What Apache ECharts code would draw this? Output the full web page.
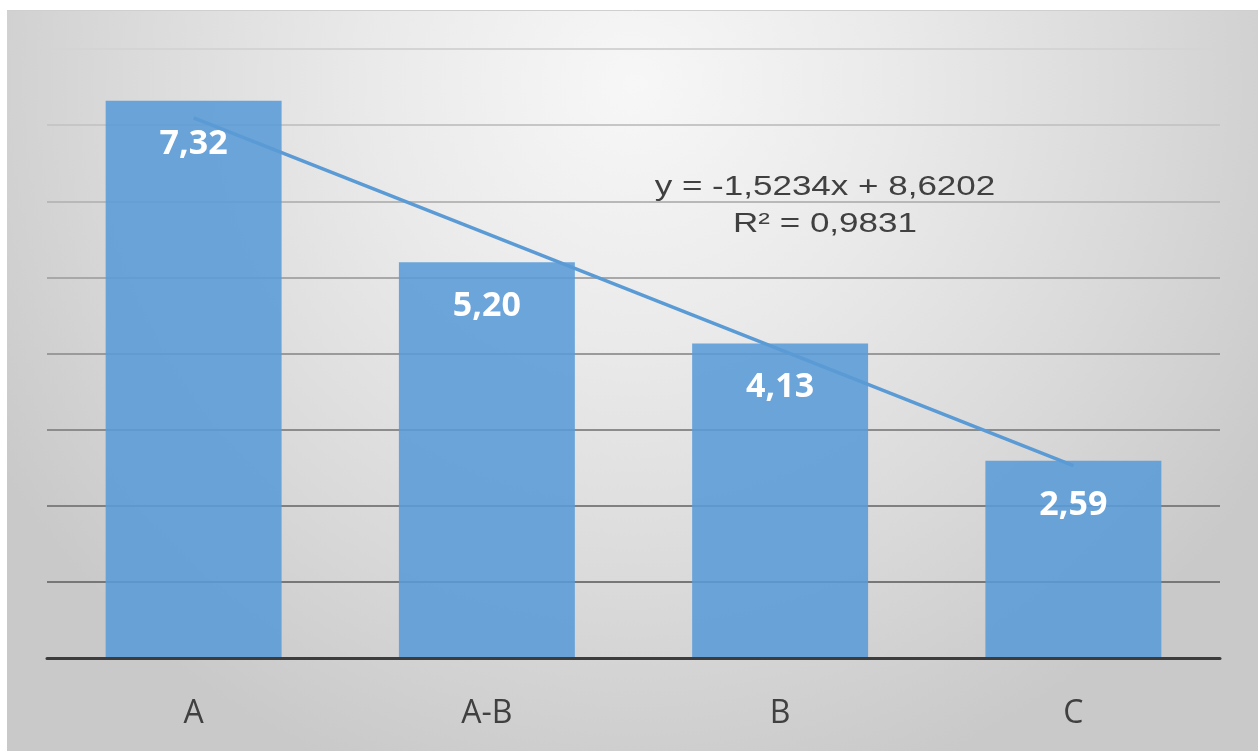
<!DOCTYPE html>
<html>
<head>
<meta charset="utf-8">
<style>
  html, body { margin: 0; padding: 0; background: #ffffff; }
  #chart { width: 1258px; height: 751px; }
</style>
<script src="https://cdn.jsdelivr.net/npm/echarts@6/dist/echarts.min.js"></script>
</head>
<body>
<div id="chart"></div>
<script>
// Group averages with a linear trend
const categories = ['A', 'A-B', 'B', 'C'];
const values = [7.32, 5.20, 4.13, 2.59];

// Linear trend y = slope * x + intercept (x = 1..n)
const trendSlope = -1.5234;
const trendIntercept = 8.6202;
const trendR2 = 0.9831;

// Value axis ticks
const yTicks = [0, 1, 2, 3, 4, 5, 6, 7, 8];

const fmt = (v, d) => v.toFixed(d).replace('.', ',');
const trendValues = categories.map((c, i) => trendSlope * (i + 1) + trendIntercept);

const eqLine1 = 'y = ' + (trendSlope < 0 ? '-' : '') + fmt(Math.abs(trendSlope), 4) + 'x + ' + fmt(trendIntercept, 4);
const eqLine2 = 'R² = ' + fmt(trendR2, 4);

// gridlines fade from darker (bottom) to lighter (top)
const gridColors = ['#6f6f6f', '#777777', '#808080', '#8c8c8c', '#9a9a9a', '#a8a8a8', '#b8b8b8', '#c6c6c6', '#d4d4d4'];

const chart = echarts.init(document.getElementById('chart'), null, { renderer: 'canvas' });

chart.setOption({
  animation: false,
  backgroundColor: '#ffffff',
  graphic: [
    {
      type: 'rect',
      z: -10,
      silent: true,
      shape: { x: 7, y: 10, width: 1251, height: 741 },
      style: {
        fill: new echarts.graphic.RadialGradient(0.5, 0.1, 1.0, [
          { offset: 0, color: '#f7f7f7' },
          { offset: 0.35, color: '#eaeaea' },
          { offset: 0.7, color: '#d9d9d9' },
          { offset: 1, color: '#c9c9c9' }
        ])
      }
    },
    {
      type: 'line',
      z: -9,
      silent: true,
      shape: { x1: 7, y1: 10.5, x2: 1258, y2: 10.5 },
      style: { stroke: '#cfcfcf', lineWidth: 1 }
    },
    {
      type: 'text',
      x: 825, y: 187,
      scaleX: 1.25,
      z: 20,
      style: {
        text: eqLine1,
        font: '28px "Liberation Sans", Arial, sans-serif',
        fill: '#404040',
        textAlign: 'center',
        textVerticalAlign: 'middle'
      }
    },
    {
      type: 'text',
      x: 825, y: 224,
      scaleX: 1.25,
      z: 20,
      style: {
        text: eqLine2,
        font: '28px "Liberation Sans", Arial, sans-serif',
        fill: '#404040',
        textAlign: 'center',
        textVerticalAlign: 'middle'
      }
    }
  ],
  grid: { left: 47, right: 38, top: 49, bottom: 93, containLabel: false },
  xAxis: {
    type: 'category',
    data: categories,
    axisLine: { show: true, lineStyle: { color: '#3c3c3c', width: 3 } },
    axisTick: { show: false },
    axisLabel: {
      color: '#404040',
      fontFamily: '"Open Sans", sans-serif',
      fontSize: 32,
      margin: 40
    },
    splitLine: { show: false },
    z: 5
  },
  yAxis: {
    type: 'value',
    min: yTicks[0],
    max: yTicks[yTicks.length - 1],
    interval: 1,
    axisLine: { show: false },
    axisTick: { show: false },
    axisLabel: { show: false },
    splitLine: { show: true, lineStyle: { color: gridColors, width: 2 } }
  },
  series: [
    {
      type: 'bar',
      data: values,
      barWidth: '60%',
      itemStyle: { color: 'rgba(90,155,214,0.88)' },
      label: {
        show: true,
        position: 'insideTop',
        distance: 27,
        color: '#ffffff',
        fontFamily: '"Open Sans", sans-serif',
        fontWeight: 'bold',
        fontSize: 34,
        formatter: p => fmt(p.value, 2)
      },
      z: 2
    },
    {
      type: 'line',
      data: trendValues,
      symbol: 'none',
      lineStyle: { color: '#5b9bd5', width: 3.5 },
      z: 3
    }
  ]
});
</script>
</body>
</html>
